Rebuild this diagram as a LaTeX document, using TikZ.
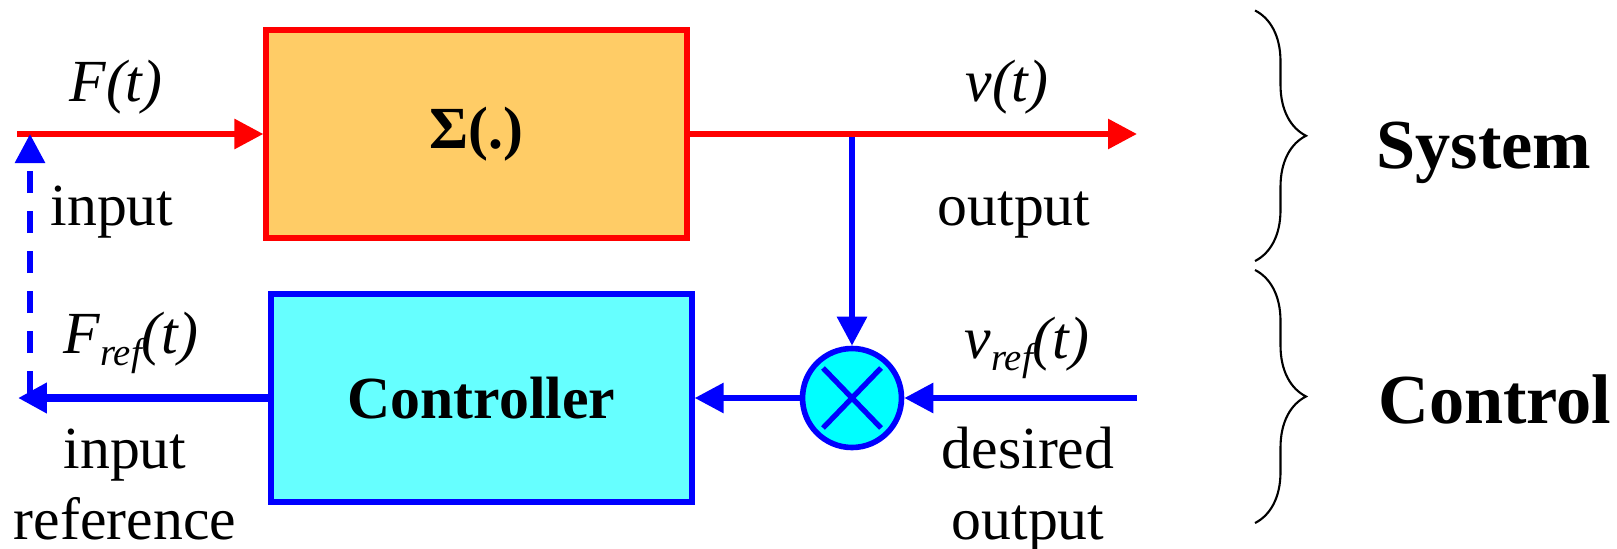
\documentclass[tikz,border=0pt]{standalone}
\usepackage{fontspec}
\setmainfont{Liberation Serif}
\usetikzlibrary{arrows.meta, positioning, decorations.pathreplacing}

\definecolor{sysfill}{RGB}{255,204,102}
\definecolor{ctrlfill}{RGB}{102,255,255}
\definecolor{mixfill}{RGB}{0,255,255}
\newcommand{\refsub}{\raisebox{-0.12cm}{\fontsize{11}{13}\selectfont ref}}

\begin{document}
\begin{tikzpicture}[
  blk/.style={draw, line width=1.5pt, minimum width=4.21cm, minimum height=2.08cm,
              inner sep=0pt, font=\fontsize{17}{20}\selectfont\bfseries},
  lbl/.style={anchor=base, inner sep=0pt, font=\fontsize{17}{20}\selectfont},
  sig/.style={lbl, font=\fontsize{17}{20}\selectfont\itshape},
  tag/.style={anchor=base, inner sep=0pt, font=\fontsize{20}{24}\selectfont\bfseries},
  redarr/.style={red, line width=1.7pt, -{Triangle[length=0.29cm, width=0.29cm]}},
  bluearr/.style={blue, line width=1.7pt, -{Triangle[length=0.29cm, width=0.29cm]}},
  curly/.style={semithick, decorate, decoration={brace, amplitude=0.51cm}}
]
  \useasboundingbox (0,0) rectangle (16.17,5.48);

  % blocks
  \node[blk, draw=red, fill=sysfill] (sys) at (4.765,4.14) {Σ(.)};
  \node[blk, draw=blue, fill=ctrlfill] (ctrl) at (4.815,1.50) {Controller};
  \node[circle, draw=blue, fill=mixfill, line width=1.6pt, minimum size=0.99cm,
        inner sep=0pt] (mix) at (8.52,1.50) {};
  \draw[blue, line width=1.5pt] ([shift={(-0.29,0.30)}]mix.center) -- ([shift={(0.29,-0.30)}]mix.center);
  \draw[blue, line width=1.5pt] ([shift={(0.29,0.30)}]mix.center) -- ([shift={(-0.29,-0.30)}]mix.center);

  \coordinate (in) at (0.17,4.14);
  \coordinate (tap) at (8.52,4.14);
  \coordinate (out) at (11.37,4.14);
  \coordinate (ref) at (11.37,1.50);
  \coordinate (fin) at (0.18,1.50);
  \coordinate (dashlo) at (0.30,1.55);
  \coordinate (dashhi) at (0.30,4.14);

  % signals
  \draw[bluearr] (tap) -- (mix);
  \draw[redarr] (in) -- (sys);
  \draw[redarr] (sys) -- (out);
  \draw[bluearr] (ref) -- (mix);
  \draw[bluearr] (mix) -- (ctrl);
  \draw[bluearr, line width=2.4pt] (ctrl) -- (fin);
  \draw[bluearr, dash pattern=on 0.22cm off 0.18cm] (dashlo) -- (dashhi);

  % labels
  \node[sig] (ft) at (1.16,4.46) {F(t)};
  \node[lbl] (inlbl) at (1.12,3.23) {input};
  \node[sig] (fref) at (1.31,1.95) {F\refsub(t)};
  \node[lbl] (inref) at (1.25,0.80) {input};
  \node[lbl] (inref2) at (1.25,0.09) {reference};
  \node[sig] (vt) at (10.07,4.46) {v(t)};
  \node[lbl] (outlbl) at (10.14,3.23) {output};
  \node[sig] (vref) at (10.27,1.90) {v\refsub(t)};
  \node[lbl] (desout) at (10.28,0.80) {desired};
  \node[lbl] (desout2) at (10.28,0.09) {output};

  % groups
  \coordinate (sysTop) at (12.55,5.375);
  \coordinate (sysBot) at (12.55,2.87);
  \coordinate (ctlTop) at (12.55,2.78);
  \coordinate (ctlBot) at (12.55,0.25);
  \draw[curly] (sysTop) -- (sysBot);
  \draw[curly] (ctlTop) -- (ctlBot);
  \node[tag] (systag) at (14.84,3.80) {System};
  \node[tag] (ctltag) at (14.95,1.25) {Control};
\end{tikzpicture}
\end{document}
